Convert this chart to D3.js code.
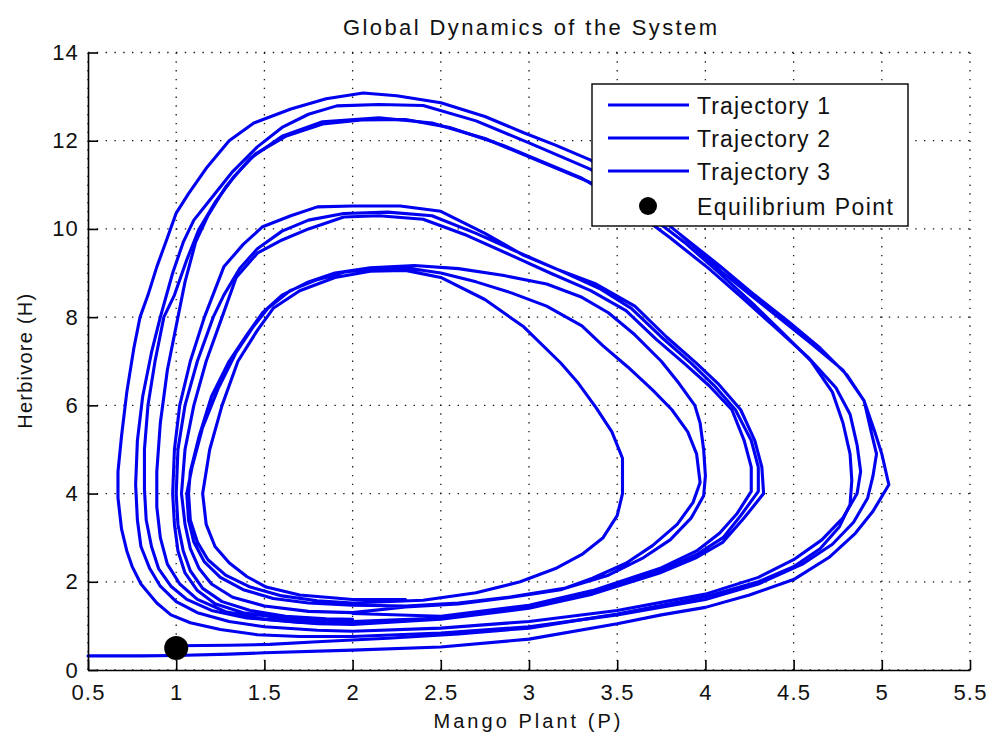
<!DOCTYPE html>
<html>
<head>
<meta charset="utf-8">
<script src="https://cdn.jsdelivr.net/npm/d3@7"></script>
<style>
  html, body { margin: 0; padding: 0; background: #fff; }
  svg { display: block; }
</style>
</head>
<body>
<script>
// ---------------- data ----------------
const xTicks = [0.5, 1, 1.5, 2, 2.5, 3, 3.5, 4, 4.5, 5, 5.5];
const xTickLabels = ["0.5", "1", "1.5", "2", "2.5", "3", "3.5", "4", "4.5", "5", "5.5"];
const yTicks = [0, 2, 4, 6, 8, 10, 12, 14];
const yTickLabels = ["0", "2", "4", "6", "8", "10", "12", "14"];

const titleText = "Global Dynamics of the System";
const xLabelText = "Mango Plant (P)";
const yLabelText = "Herbivore (H)";
const legendLabels = ["Trajectory 1", "Trajectory 2", "Trajectory 3", "Equilibrium Point"];

const equilibrium = [1.0, 0.5];

// Trajectory 1 : [P, H] points
const trajectory1 = [
  [0.5,0.32],[0.8,0.32],[1.0,0.33],[1.3,0.36],[1.5,0.39],[2.0,0.45],[2.5,0.52],[3.0,0.7],[3.5,1.05],[3.75,1.25],
  [4.0,1.42],[4.25,1.7],[4.5,2.05],[4.7,2.55],[4.85,3.1],[4.95,3.6],[5.04,4.2],[5.0,4.9],[4.96,5.4],[4.9,6.1],
  [4.78,6.8],[4.6,7.4],[4.35,8.2],[4.1,9.0],[3.85,9.9],[3.6,10.7],[3.35,11.56],[3.15,11.9],[2.97,12.18],[2.75,12.55],
  [2.5,12.86],[2.25,13.02],[2.06,13.08],[1.85,12.95],[1.65,12.72],[1.44,12.4],[1.3,12.0],[1.175,11.4],[1.07,10.8],[1.0,10.36],
  [0.95,9.8],[0.89,9.14],[0.84,8.5],[0.795,8.0],[0.76,7.3],[0.72,6.3],[0.69,5.3],[0.67,4.5],[0.67,3.9],[0.69,3.2],
  [0.72,2.7],[0.75,2.35],[0.8,1.95],[0.89,1.52],[0.97,1.25],[1.08,1.07],[1.25,0.92],[1.46,0.8],[1.7,0.76],[2.0,0.76],
  [2.5,0.84],[3.0,0.98],[3.5,1.25],[4.0,1.6],[4.3,1.95],[4.55,2.4],[4.72,2.85],[4.84,3.35],[4.92,3.9],[4.95,4.4],
  [4.97,4.9],[4.94,5.4],[4.9,6.1],[4.8,6.7],[4.65,7.3],[4.47,7.9],[4.28,8.5],[4.07,9.2],[3.85,9.9],[3.6,10.7],
  [3.35,11.35],[3.0,11.95],[2.7,12.45],[2.4,12.8],[2.15,12.82],[1.91,12.79],[1.75,12.6],[1.6,12.3],[1.46,11.86],[1.32,11.3],
  [1.2,10.7],[1.1,10.2],[1.04,9.7],[0.98,9.0],[0.91,8.0],[0.86,7.2],[0.81,6.2],[0.78,5.2],[0.77,4.2],[0.78,3.4],
  [0.8,2.8],[0.85,2.3],[0.91,1.9],[1.0,1.55],[1.12,1.3],[1.3,1.1],[1.5,0.98],[1.8,0.9],[2.0,0.88],
  [2.5,0.95],[3.0,1.1],[3.5,1.35],[4.0,1.72],[4.3,2.1],[4.5,2.5],[4.66,2.95],[4.78,3.45],[4.86,4.0],[4.88,4.5],
  [4.86,5.1],[4.82,5.8],[4.74,6.4],[4.58,7.1],[4.4,7.75],[4.22,8.4],[4.02,9.1],[3.8,9.8],[3.55,10.55],[3.3,11.15],
  [2.85,11.9],[2.55,12.3],[2.3,12.48],[2.05,12.47],[1.83,12.38],[1.62,12.1],[1.45,11.7],[1.33,11.2],[1.22,10.6],[1.13,10.0],
  [1.06,9.3],[0.99,8.5],[0.93,8.0],[0.88,7.0],[0.84,6.0],[0.82,5.0],[0.82,4.1],[0.83,3.4],[0.86,2.8],[0.9,2.3],
  [0.97,1.9],[1.06,1.6],[1.2,1.35],[1.4,1.18],[1.7,1.08],[2.0,1.05]
];

// Trajectory 2
const trajectory2 = [
  [1.0,0.55],[1.3,0.56],[1.53,0.58],[1.8,0.64],[2.2,0.72],[2.6,0.82],[3.0,0.95],[3.5,1.27],[4.0,1.66],[4.3,2.0],
  [4.5,2.34],[4.65,2.75],[4.76,3.25],[4.82,3.75],[4.83,4.3],[4.82,4.9],[4.78,5.6],[4.72,6.3],[4.6,7.0],[4.45,7.6],
  [4.27,8.3],[4.08,9.0],[3.88,9.7],[3.65,10.4],[3.38,11.0],[3.05,11.55],[2.75,12.05],[2.45,12.4],[2.15,12.52],[1.83,12.43],[1.6,12.1],
  [1.42,11.6],[1.28,10.95],[1.18,10.3],[1.11,9.7],[1.05,8.8],[1.01,8.0],[0.95,6.8],[0.91,5.6],[0.89,4.5],[0.89,3.7],
  [0.91,3.0],[0.95,2.4],[1.02,1.95],[1.12,1.6],[1.28,1.32],[1.5,1.15],[1.8,1.05],[2.0,1.03],
  [2.5,1.15],[3.0,1.4],[3.36,1.72],[3.74,2.2],[3.95,2.55],[4.1,2.9],[4.22,3.45],[4.33,4.0],[4.32,4.6],[4.28,5.2],
  [4.2,5.9],[4.07,6.5],[3.95,6.95],[3.78,7.55],[3.6,8.25],[3.38,8.75],[3.15,9.1],[2.97,9.4],[2.75,9.9],[2.5,10.4],
  [2.27,10.52],[2.0,10.52],[1.8,10.5],[1.65,10.3],[1.49,10.05],[1.38,9.65],[1.27,9.14],[1.16,8.0],[1.08,7.0],[1.02,6.0],
  [0.99,5.0],[0.98,4.0],[0.99,3.3],[1.01,2.7],[1.05,2.2],[1.12,1.8],[1.22,1.5],[1.38,1.3],[1.6,1.17],[1.8,1.12],[2.0,1.1],
  [2.5,1.18],[3.0,1.42],[3.36,1.75],[3.74,2.25],[3.95,2.62],[4.1,3.0],[4.2,3.5],[4.3,4.05],[4.3,4.6],[4.26,5.2],
  [4.17,5.9],[4.05,6.45],[3.92,6.95],[3.75,7.55],[3.58,8.2],[3.4,8.65],[3.18,9.05],[2.95,9.45],[2.7,9.9],[2.45,10.3],
  [2.2,10.38],[1.95,10.35],[1.75,10.2],[1.6,9.95],[1.46,9.55],[1.36,9.1],[1.27,8.5],[1.21,8.0],[1.12,7.0],[1.05,6.0],
  [1.01,5.0],[1.0,4.0],[1.01,3.3],[1.04,2.7],[1.08,2.25],[1.15,1.85],[1.26,1.55],[1.42,1.35],[1.62,1.22],[1.85,1.16],[2.0,1.15]
];

// Trajectory 3
const trajectory3 = [
  [2.0,1.28],[2.5,1.22],[3.0,1.47],[3.36,1.8],[3.74,2.3],[3.95,2.7],[4.08,3.1],[4.18,3.55],[4.26,4.05],[4.26,4.6],
  [4.22,5.2],[4.15,5.9],[4.02,6.45],[3.88,6.95],[3.72,7.5],[3.55,8.15],[3.35,8.6],[3.12,9.0],[2.9,9.4],[2.65,9.85],
  [2.4,10.22],[2.15,10.3],[1.95,10.27],[1.75,10.0],[1.6,9.75],[1.46,9.45],[1.34,8.9],[1.26,8.0],[1.17,7.0],[1.1,6.0],
  [1.05,5.0],[1.03,4.0],[1.05,3.3],[1.08,2.75],[1.13,2.3],[1.2,1.95],[1.32,1.65],[1.5,1.45],[1.75,1.33],[2.0,1.3],
  [2.3,1.43],[2.6,1.5],[2.9,1.65],[3.18,1.82],[3.36,2.08],[3.55,2.42],[3.7,2.82],[3.84,3.3],[3.93,3.8],[3.97,4.25],
  [3.95,4.9],[3.9,5.4],[3.81,5.9],[3.7,6.35],[3.56,6.87],[3.42,7.35],[3.3,7.8],[3.1,8.25],[2.9,8.55],[2.7,8.8],
  [2.5,9.0],[2.3,9.12],[2.1,9.1],[1.95,9.02],[1.8,8.85],[1.645,8.6],[1.52,8.2],[1.44,7.8],[1.34,7.2],[1.24,6.4],
  [1.15,5.5],[1.09,4.6],[1.06,4.0],[1.07,3.4],[1.1,2.9],[1.16,2.45],[1.25,2.1],[1.38,1.82],[1.55,1.62],[1.75,1.52],[2.0,1.47],
  [2.3,1.45],[2.6,1.52],[2.9,1.66],[3.2,1.85],[3.45,2.15],[3.65,2.55],[3.8,2.95],[3.92,3.45],[3.99,3.95],[4.0,4.4],
  [3.99,5.0],[3.97,5.6],[3.94,6.0],[3.85,6.5],[3.75,7.0],[3.6,7.6],[3.45,8.1],[3.3,8.45],[3.1,8.75],[2.85,8.95],
  [2.6,9.1],[2.35,9.17],[2.1,9.12],[1.9,9.0],[1.75,8.8],[1.6,8.5],[1.49,8.1],[1.4,7.6],[1.3,7.0],[1.2,6.2],
  [1.13,5.3],[1.08,4.5],[1.07,4.0],[1.08,3.4],[1.12,2.9],[1.18,2.5],[1.28,2.15],[1.42,1.88],[1.6,1.68],[1.8,1.57],[2.0,1.52],
  [2.4,1.58],[2.7,1.75],[2.95,2.0],[3.15,2.3],[3.3,2.62],[3.42,3.0],[3.5,3.5],[3.53,4.0],[3.53,4.8],[3.47,5.4],
  [3.38,5.95],[3.28,6.5],[3.18,6.96],[2.97,7.78],[2.75,8.4],[2.5,8.9],[2.3,9.06],[2.1,9.04],[1.9,8.9],[1.7,8.6],
  [1.55,8.2],[1.46,7.7],[1.35,7.0],[1.26,6.0],[1.19,5.0],[1.15,4.0],[1.17,3.3],[1.22,2.8],[1.3,2.43],[1.4,2.12],
  [1.51,1.88],[1.7,1.7],[2.0,1.6],[2.3,1.6]
];

const trajectories = [trajectory1, trajectory2, trajectory3];

// ---------------- drawing ----------------
const W = 990, H = 735;
const padL = 88, padR = 970, padT = 52.5, padB = 670;
const FONT = "'Liberation Sans', Arial, Helvetica, sans-serif";
const BLUE = "#0000f0";

const svg = d3.select("body").append("svg")
  .attr("width", W).attr("height", H)
  .style("background", "#fff");

const x = d3.scaleLinear().domain([0.5, 5.5]).range([padL, padR]);
const y = d3.scaleLinear().domain([0, 14]).range([padB, padT]);

// grid (dotted)
const grid = svg.append("g").attr("stroke", "#1a1a1a").attr("stroke-width", 1.3)
  .attr("stroke-dasharray", "1.4,7.4");
grid.selectAll("line.gx").data(xTicks).join("line")
  .attr("class", "gx")
  .attr("x1", d => x(d)).attr("x2", d => x(d))
  .attr("y1", y(14)).attr("y2", y(0));
grid.selectAll("line.gy").data(yTicks).join("line")
  .attr("class", "gy")
  .attr("x1", x(0.5)).attr("x2", x(5.5))
  .attr("y1", d => y(d)).attr("y2", d => y(d));

// trajectories
const line = d3.line().x(d => x(d[0])).y(d => y(d[1]));
svg.append("g").selectAll("path").data(trajectories).join("path")
  .attr("d", line)
  .attr("fill", "none")
  .attr("stroke", BLUE)
  .attr("stroke-width", 3.1)
  .attr("stroke-linejoin", "round")
  .attr("stroke-linecap", "round");

// equilibrium point
svg.append("circle")
  .attr("cx", x(equilibrium[0])).attr("cy", y(equilibrium[1]))
  .attr("r", 12).attr("fill", "#000");

// axes
const xAxis = d3.axisBottom(x).tickValues(xTicks)
  .tickFormat((d, i) => xTickLabels[i])
  .tickSizeInner(-10).tickSizeOuter(0).tickPadding(14);
const yAxis = d3.axisLeft(y).tickValues(yTicks)
  .tickFormat((d, i) => yTickLabels[i])
  .tickSizeInner(-10).tickSizeOuter(0).tickPadding(9);

const gx = svg.append("g").attr("transform", `translate(0,${padB})`).call(xAxis);
const gy = svg.append("g").attr("transform", `translate(${padL},0)`).call(yAxis);
[gx, gy].forEach(g => {
  g.select(".domain").attr("stroke", "#000").attr("stroke-width", 1.6);
  g.selectAll(".tick line").attr("stroke", "#000").attr("stroke-width", 1.6);
  g.selectAll(".tick text")
    .attr("fill", "#111")
    .style("font-family", FONT)
    .style("font-size", "22px")
    .style("letter-spacing", "1.2px");
});

// title and axis labels
svg.append("text")
  .attr("x", 530).attr("y", 35)
  .attr("text-anchor", "middle")
  .attr("textLength", 374).attr("lengthAdjust", "spacing")
  .style("font-family", FONT).style("font-size", "22px").attr("fill", "#111")
  .text(titleText);

svg.append("text")
  .attr("x", 527).attr("y", 728)
  .attr("text-anchor", "middle")
  .attr("textLength", 187).attr("lengthAdjust", "spacing")
  .style("font-family", FONT).style("font-size", "20px").attr("fill", "#111")
  .text(xLabelText);

svg.append("text")
  .attr("transform", `translate(32,${(padT + padB) / 2}) rotate(-90)`)
  .attr("text-anchor", "middle")
  .attr("textLength", 135).attr("lengthAdjust", "spacing")
  .style("font-family", FONT).style("font-size", "20px").attr("fill", "#111")
  .text(yLabelText);

// legend
const legend = svg.append("g");
legend.append("rect")
  .attr("x", 592).attr("y", 84).attr("width", 316).attr("height", 142)
  .attr("fill", "#fff").attr("stroke", "#000").attr("stroke-width", 1.4);
const rowY = [105, 138, 171, 206];
const textLen = [133, 133, 133, 196];
legendLabels.forEach((lab, i) => {
  if (i < 3) {
    legend.append("line")
      .attr("x1", 608).attr("x2", 689)
      .attr("y1", rowY[i]).attr("y2", rowY[i])
      .attr("stroke", BLUE).attr("stroke-width", 3.2);
  } else {
    legend.append("circle").attr("cx", 648).attr("cy", rowY[i]).attr("r", 9).attr("fill", "#000");
  }
  legend.append("text")
    .attr("x", 697).attr("y", rowY[i] + 9)
    .attr("textLength", textLen[i]).attr("lengthAdjust", "spacing")
    .style("font-family", FONT).style("font-size", "23px").attr("fill", "#111")
    .text(lab);
});
</script>
</body>
</html>
